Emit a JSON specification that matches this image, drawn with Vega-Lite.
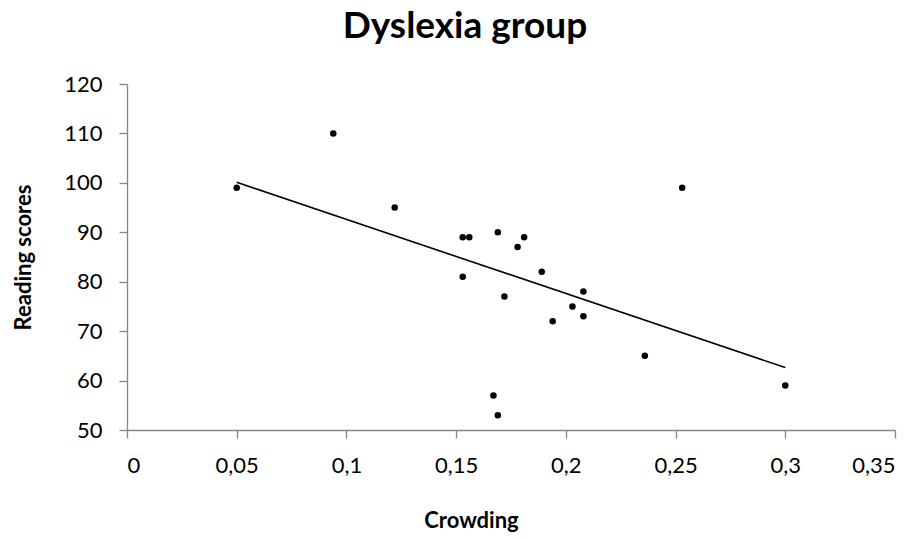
{
  "$schema": "https://vega.github.io/schema/vega-lite/v6.json",
  "autosize": "none",
  "width": 768,
  "height": 346,
  "padding": {"left": 127, "top": 84, "right": 24, "bottom": 109},
  "background": "white",
  "config": {
    "view": {"stroke": null},
    "font": "Lato",
    "axis": {
      "domainColor": "#868686",
      "domainWidth": 1.3,
      "tickColor": "#868686",
      "tickWidth": 1.3,
      "tickSize": 8,
      "grid": false,
      "labelFont": "Lato",
      "labelFontSize": 22,
      "labelColor": "#000000",
      "labelPadding": 17,
      "titleFont": "Lato",
      "titleFontSize": 22,
      "titleFontWeight": "bold",
      "titleColor": "#000000"
    }
  },
  "title": {
    "text": "Dyslexia group",
    "font": "Lato",
    "fontSize": 37,
    "fontWeight": "bold",
    "color": "#000000",
    "anchor": "middle",
    "frame": "group",
    "baseline": "alphabetic",
    "offset": -2,
    "dx": -46
  },
  "data": {
    "values": [
      {"Crowding": 0.05, "Reading": 99},
      {"Crowding": 0.094, "Reading": 110},
      {"Crowding": 0.122, "Reading": 95},
      {"Crowding": 0.153, "Reading": 89},
      {"Crowding": 0.156, "Reading": 89},
      {"Crowding": 0.169, "Reading": 90},
      {"Crowding": 0.181, "Reading": 89},
      {"Crowding": 0.178, "Reading": 87},
      {"Crowding": 0.153, "Reading": 81},
      {"Crowding": 0.189, "Reading": 82},
      {"Crowding": 0.208, "Reading": 78},
      {"Crowding": 0.172, "Reading": 77},
      {"Crowding": 0.203, "Reading": 75},
      {"Crowding": 0.208, "Reading": 73},
      {"Crowding": 0.194, "Reading": 72},
      {"Crowding": 0.236, "Reading": 65},
      {"Crowding": 0.167, "Reading": 57},
      {"Crowding": 0.169, "Reading": 53},
      {"Crowding": 0.253, "Reading": 99},
      {"Crowding": 0.3, "Reading": 59}
    ]
  },
  "layer": [
    {
      "mark": {"type": "point", "filled": true, "color": "#000000", "size": 42, "opacity": 1},
      "encoding": {
        "x": {
          "field": "Crowding",
          "type": "quantitative",
          "scale": {"domain": [0, 0.35], "nice": false, "zero": false},
          "axis": {
            "title": "Crowding",
            "values": [0, 0.05, 0.1, 0.15, 0.2, 0.25, 0.3, 0.35],
            "labelExpr": "replace(format(datum.value, '.2~f'), '.', ',')",
            "titleX": 344,
            "titleY": 80,
            "titleBaseline": "top"
          }
        },
        "y": {
          "field": "Reading",
          "type": "quantitative",
          "scale": {"domain": [50, 120], "nice": false, "zero": false},
          "axis": {
            "title": "Reading scores",
            "values": [50, 60, 70, 80, 90, 100, 110, 120],
            "titleX": -97,
            "titleY": 173,
            "titleBaseline": "alphabetic",
            "titleAngle": -90
          }
        }
      }
    },
    {
      "transform": [
        {"regression": "Reading", "on": "Crowding", "method": "linear"}
      ],
      "mark": {"type": "line", "color": "#000000", "strokeWidth": 1.6},
      "encoding": {
        "x": {"field": "Crowding", "type": "quantitative"},
        "y": {"field": "Reading", "type": "quantitative"}
      }
    }
  ]
}
